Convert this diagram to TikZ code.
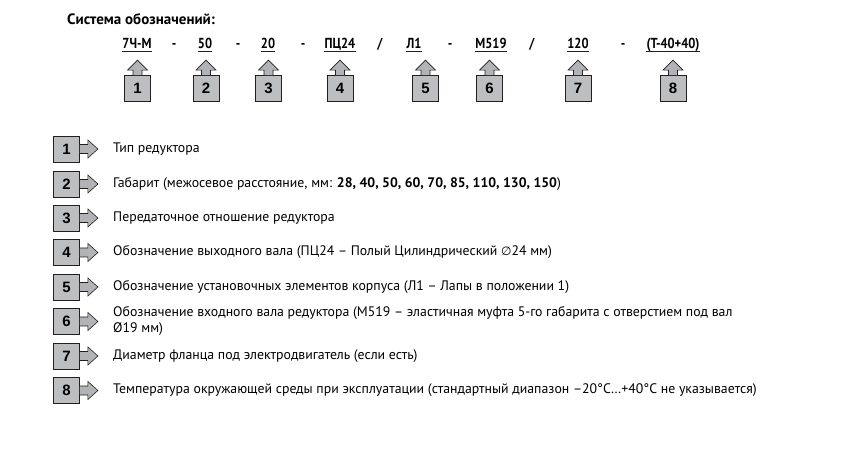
\documentclass[tikz,border=0pt]{standalone}
\usepackage{fontspec}
\setmainfont{PT Sans}
\newfontfamily\cb{PT Sans}[FakeStretch=0.86]
\newfontfamily\numf{Liberation Sans}
\newfontfamily\symf{DejaVu Sans}
\usetikzlibrary{calc}
\definecolor{boxgray}{HTML}{BDBEC0}
\definecolor{arrgray}{HTML}{B1B3B6}
\definecolor{edge}{HTML}{231F20}
\tikzset{
  numbox/.style={draw=edge, line width=0.8pt, fill=boxgray, minimum width=26bp, minimum height=26bp, inner sep=0pt, font=\numf\bfseries\fontsize{15bp}{15bp}\selectfont},
  codetxt/.style={anchor=base, inner sep=0pt, font=\cb\bfseries\fontsize{14.5bp}{15bp}\selectfont},
  desc/.style={anchor=west, inner sep=0pt, align=left, font=\fontsize{13.8bp}{16bp}\selectfont},
  arr/.style={draw=edge, line width=0.6pt, fill=arrgray, line join=miter},
  uline/.style={draw=edge, line width=0.9pt}
}
\begin{document}
\begin{tikzpicture}[x=1bp,y=-1bp]
\useasboundingbox (0,0) rectangle (852,460);
% title
\node[anchor=base west, inner sep=0pt, font=\bfseries\fontsize{15bp}{15bp}\selectfont] (title) at (67,25) {Система обозначений:};
% code row
\node[codetxt] (c1) at (137,49) {7Ч-М};
\node[codetxt] (s1) at (174,49) {-};
\node[codetxt] (c2) at (205,49) {50};
\node[codetxt] (s2) at (238,49) {-};
\node[codetxt] (c3) at (268,49) {20};
\node[codetxt] (s3) at (303,49) {-};
\node[codetxt] (c4) at (340,49) {ПЦ24};
\node[codetxt] (s4) at (380,49) {/};
\node[codetxt] (c5) at (414,49) {Л1};
\node[codetxt] (s5) at (450,49) {-};
\node[codetxt] (c6) at (491,49) {М519};
\node[codetxt] (s6) at (532,49) {/};
\node[codetxt] (c7) at (578,49) {120};
\node[codetxt] (s7) at (623,49) {-};
\node[codetxt] (c8) at (673,49) {(Т-40+40)};
\foreach \c in {c1,c2,c3,c4,c5,c6,c7,c8}{
  \draw[uline] ($(\c.base west)+(0,2.6)$) -- ($(\c.base east)+(0,2.6)$);
}
% top boxes
\foreach \n/\x in {1/137.5,2/206,3/268.5,4/340,5/425.5,6/489.5,7/578,8/673}{
  \node[numbox] (t\n) at (\x,88.5) {\n};
  \draw[arr] (t\n.north) ++(-4.5,0) -- ++(0,-5) -- ++(-5.5,0) -- ++(10,-10) -- ++(10,10) -- ++(-5.5,0) -- ++(0,5);
}
% list
\foreach \n/\y in {1/149,2/184,3/218,4/252.5,5/287,6/321.5,7/356,8/390.5}{
  \node[numbox] (l\n) at (66.5,\y) {\n};
  \draw[arr] (l\n.east) ++(0,-4.5) -- ++(8,0) -- ++(0,-4.5) -- ++(10,9) -- ++(-10,9) -- ++(0,-4.5) -- ++(-8,0);
}
\node[desc] (d1) at (113,149) {Тип редуктора};
\node[desc] (d2) at (113,184) {Габарит (межосевое расстояние, мм: \textbf{28, 40, 50, 60, 70, 85, 110, 130, 150})};
\node[desc] (d3) at (113,218) {Передаточное отношение редуктора};
\node[desc] (d4) at (113,252.5) {Обозначение выходного вала (ПЦ24 – Полый Цилиндрический {\symf\fontsize{12bp}{14bp}\selectfont ∅}24 мм)};
\node[desc] (d5) at (113,287) {Обозначение установочных элементов корпуса (Л1 – Лапы в положении 1)};
\node[desc] (d6) at (113,321.5) {Обозначение входного вала редуктора (М519 – эластичная муфта 5-го габарита с отверстием под вал\\Ø19 мм)};
\node[desc] (d7) at (113,356) {Диаметр фланца под электродвигатель (если есть)};
\node[desc] (d8) at (113,390.5) {Температура окружающей среды при эксплуатации (стандартный диапазон –20°C…+40°C не указывается)};
\end{tikzpicture}
\end{document}
